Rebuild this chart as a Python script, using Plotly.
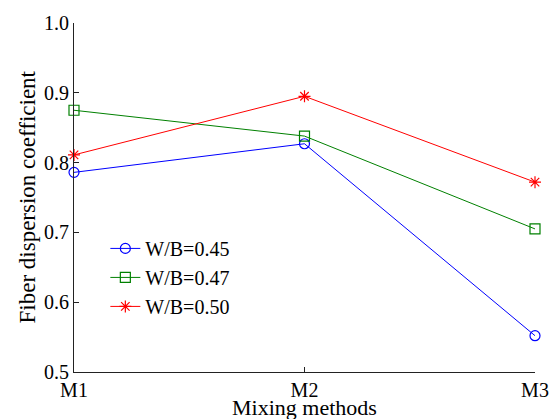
import plotly.graph_objects as go

# Mixing methods and the fibre dispersion coefficient for each water/binder ratio
methods = ["M1", "M2", "M3"]
wb_045 = [0.786, 0.827, 0.552]
wb_047 = [0.875, 0.838, 0.705]
wb_050 = [0.811, 0.895, 0.772]

y_ticks = [0.5, 0.6, 0.7, 0.8, 0.9, 1.0]

serif = "Liberation Serif"

series = [
    ("W/B=0.45", wb_045, "#0000FF", "circle-open"),
    ("W/B=0.47", wb_047, "#008000", "square-open"),
    ("W/B=0.50", wb_050, "#FF0000", "asterisk-open"),
]

fig = go.Figure()
for name, vals, color, symbol in series:
    fig.add_trace(go.Scatter(
        x=methods, y=vals, name=name, mode="lines+markers",
        line=dict(color=color, width=1),
        marker=dict(symbol=symbol, size=10, color=color,
                    line=dict(color=color, width=1.2)),
        cliponaxis=False,
    ))

fig.update_layout(
    width=551, height=419,
    margin=dict(l=74, r=16, t=23, b=47),
    paper_bgcolor="white", plot_bgcolor="white",
    font=dict(family=serif, size=20, color="black"),
    showlegend=True,
    legend=dict(
        x=0.068, y=0.41, xanchor="left", yanchor="top",
        bgcolor="rgba(0,0,0,0)", borderwidth=0,
        font=dict(family=serif, size=20, color="black"),
        tracegroupgap=0, itemwidth=30,
    ),
    annotations=[
        dict(text="Mixing methods", xref="paper", yref="paper",
             x=0.5, y=0, yshift=-35, xanchor="center", yanchor="middle",
             showarrow=False, font=dict(family=serif, size=22, color="black")),
        dict(text="Fiber dispersion coefficient", xref="paper", yref="paper",
             x=0, y=0.5, xshift=-47, xanchor="center", yanchor="middle",
             textangle=-90, showarrow=False,
             font=dict(family=serif, size=23, color="black")),
    ],
)

fig.update_xaxes(
    type="category", range=[0, 2], automargin=False,
    showline=True, linecolor="#222222", linewidth=1.2,
    ticks="inside", ticklen=5, tickcolor="#222222",
    showgrid=False, zeroline=False, mirror=False,
    tickfont=dict(family=serif, size=20, color="black"),
)
fig.update_yaxes(
    range=[0.5, 1.0], tickvals=y_ticks, tickformat=".1f", automargin=False,
    showline=True, linecolor="#222222", linewidth=1.2,
    ticks="inside", ticklen=5, tickcolor="#222222",
    showgrid=False, zeroline=False, mirror=False,
    tickfont=dict(family=serif, size=20, color="black"),
)

fig.write_html("out.html")
